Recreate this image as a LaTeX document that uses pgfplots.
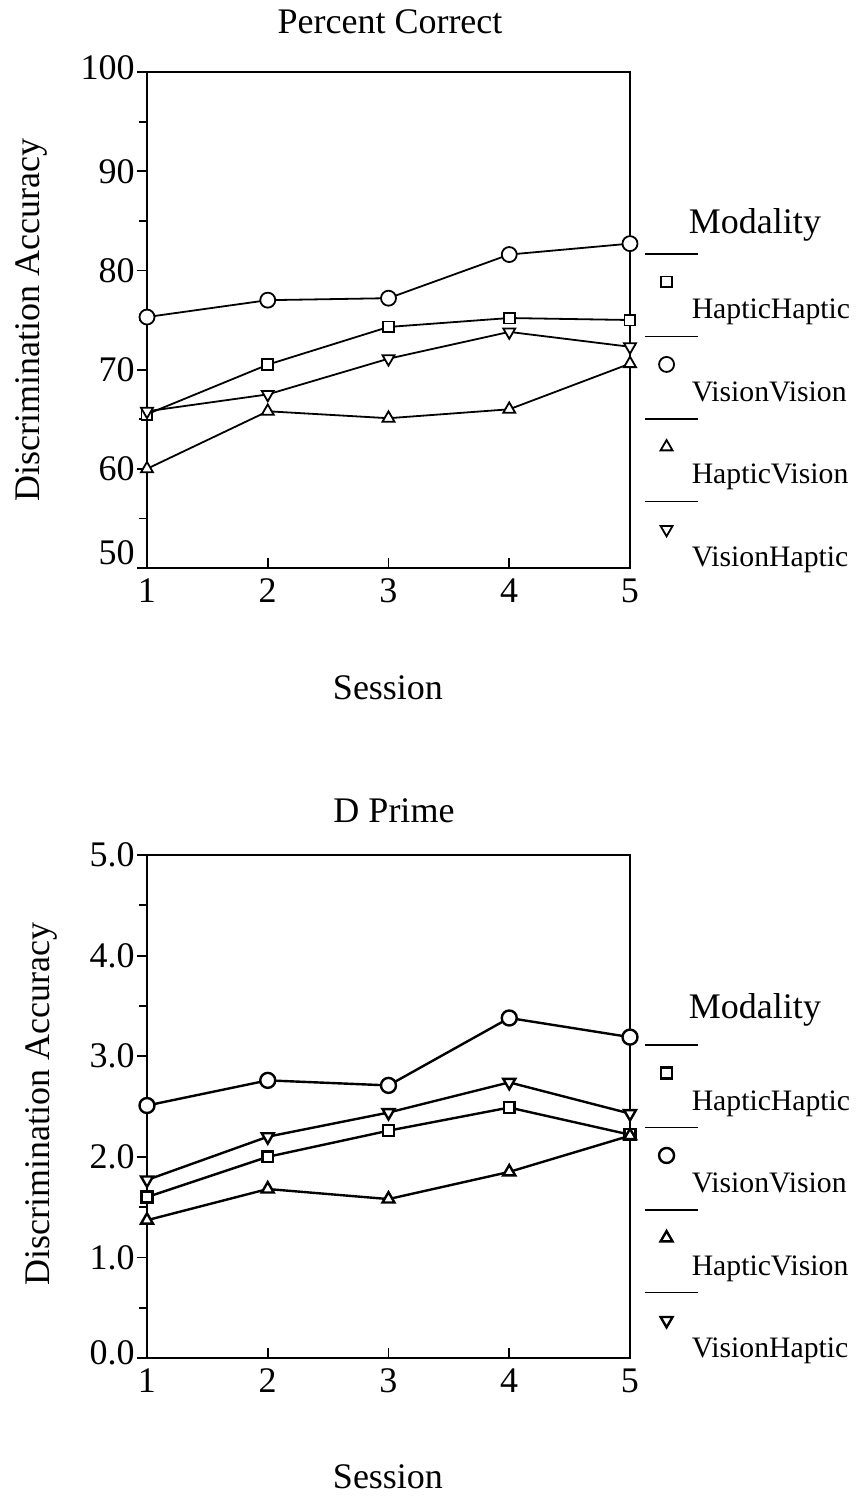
\documentclass[border=0pt]{standalone}
\usepackage{fontspec}
\setmainfont{Liberation Serif}
\usepackage{pgfplots}
\pgfplotsset{compat=1.18}

\pgfplotsset{
  mystyle/.style={
    scale only axis,
    width=161pt,
    xmin=1, xmax=5,
    xtick={1,2,3,4,5},
    xtick pos=bottom, ytick pos=left,
    x tick style={black, line width=0.6pt},
    y tick style={black, line width=0.6pt},
    xtick align=inside,
    ytick align=outside,
    major tick length=3.3pt,
    minor tick length=2.6pt,
    minor y tick num=1,
    axis line style={black, line width=0.8pt},
    tick label style={font=\fontsize{12}{14}\selectfont},
    yticklabel style={inner xsep=0.6pt},
    /pgf/number format/assume math mode=true,
    clip=false,
    legend cell align=left,
    legend image code/.code={
      \path[draw=none, fill=none] (0pt,-4.65pt) rectangle (15.6pt,4.65pt);
      \draw[overlay, black, line width=0.6pt, solid] (0pt,19.3pt) -- (17.7pt,19.3pt);
      \draw[overlay, #1] plot coordinates {(7.2pt,10pt)};
    },
  },
  sq/.style={black, mark=square*, mark size=1.8pt, mark options={solid, fill=white}},
  ci/.style={black, mark=*, mark size=2.5pt, mark options={solid, fill=white}},
  tu/.style={black, mark=triangle*, mark size=2.3pt, mark options={solid, fill=white}},
  td/.style={black, mark=triangle*, mark size=2.3pt, mark options={solid, fill=white, rotate=180}},
}

\begin{document}
\begin{tikzpicture}[font=\fontsize{12}{14}\selectfont]
\path[use as bounding box] (0pt,0pt) rectangle (287.67pt,-499pt);

% ---------- Top: Percent Correct ----------
\begin{axis}[mystyle,
  at={(49pt,-189.33pt)}, anchor=south west,
  height=165.33pt,
  ymin=50, ymax=100,
  ytick={50,60,70,80,90,100},
  yticklabels={\raisebox{10pt}{50},60,70,80,90,\raisebox{3pt}{100}},
  every axis plot/.append style={line width=0.6pt},
  legend style={draw=none, fill=none, inner sep=0pt, outer sep=0pt,
    at={(axis description cs:1.031,0.5444)}, anchor=north west,
    row sep=18.2pt,
    nodes={inner sep=0pt, text height=7pt, text depth=2.3pt, font=\fontsize{9.9}{12}\selectfont}},
]
\addplot[sq] coordinates {(1,65.5) (2,70.5) (3,74.3) (4,75.2) (5,75.0)};
\addlegendentry{HapticHaptic}
\addplot[ci] coordinates {(1,75.3) (2,77.0) (3,77.2) (4,81.6) (5,82.7)};
\addlegendentry{VisionVision}
\addplot[tu] coordinates {(1,60.0) (2,65.8) (3,65.1) (4,66.0) (5,70.6)};
\addlegendentry{HapticVision}
\addplot[td] coordinates {(1,65.8) (2,67.5) (3,71.1) (4,73.8) (5,72.3)};
\addlegendentry{VisionHaptic}
\end{axis}

% ---------- Bottom: D Prime ----------
\begin{axis}[mystyle,
  at={(49pt,-452.67pt)}, anchor=south west,
  height=167.67pt,
  ymin=0, ymax=5,
  ytick={0,1,2,3,4,5},
  yticklabels={\raisebox{3.4pt}{0.0},1.0,2.0,3.0,4.0,5.0},
  every axis plot/.append style={line width=0.8pt},
  legend style={draw=none, fill=none, inner sep=0pt, outer sep=0pt,
    at={(axis description cs:1.031,0.5348)}, anchor=north west,
    row sep=18.2pt,
    nodes={inner sep=0pt, text height=7pt, text depth=2.3pt, font=\fontsize{9.9}{12}\selectfont}},
]
\addplot[sq] coordinates {(1,1.60) (2,2.00) (3,2.26) (4,2.49) (5,2.22)};
\addlegendentry{HapticHaptic}
\addplot[ci] coordinates {(1,2.51) (2,2.76) (3,2.71) (4,3.38) (5,3.19)};
\addlegendentry{VisionVision}
\addplot[tu] coordinates {(1,1.37) (2,1.68) (3,1.58) (4,1.85) (5,2.21)};
\addlegendentry{HapticVision}
\addplot[td] coordinates {(1,1.77) (2,2.20) (3,2.44) (4,2.74) (5,2.43)};
\addlegendentry{VisionHaptic}
\end{axis}

% ---------- Titles and labels ----------
\begin{scope}[x=0.33333pt,y=-0.33333pt]
\node[anchor=base] at (390,33) {Percent Correct};
\node[anchor=base] at (388,699) {Session};
\node[anchor=base] at (394,822) {D Prime};
\node[anchor=base] at (388,1489) {Session};
\node[anchor=base, rotate=90] at (40,320) {Discrimination Accuracy};
\node[anchor=base, rotate=90] at (50,1104) {Discrimination Accuracy};
\node[anchor=base] at (755,233) {Modality};
\node[anchor=base] at (755,1018) {Modality};
\end{scope}
\end{tikzpicture}
\end{document}
